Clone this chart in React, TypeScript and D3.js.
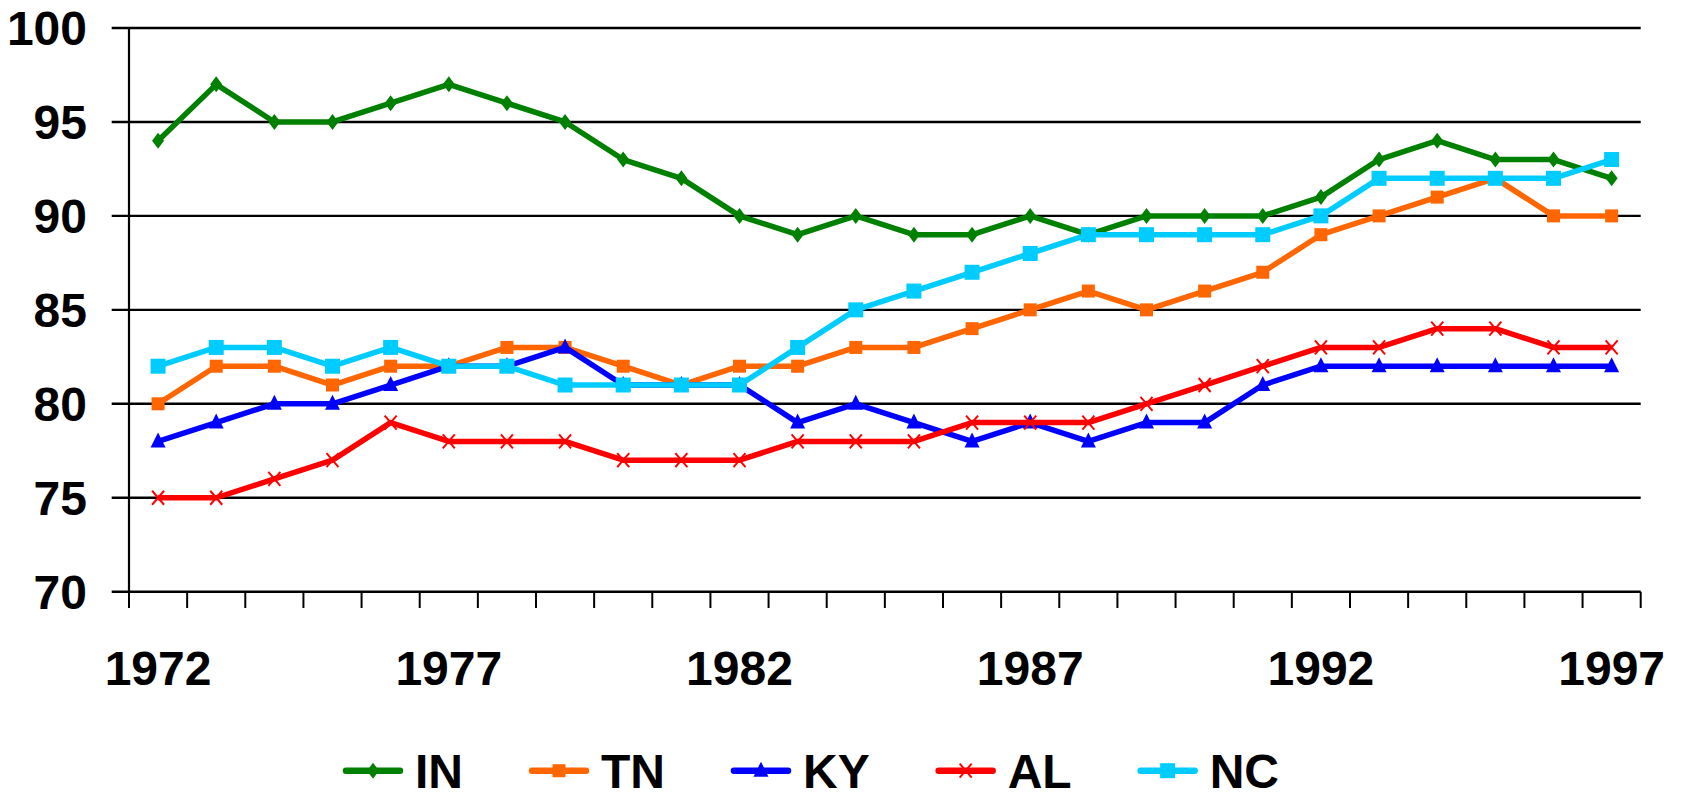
import React from "react";
import * as d3 from "d3";

const years: number[] = [
  1972, 1973, 1974, 1975, 1976, 1977, 1978, 1979, 1980, 1981, 1982, 1983, 1984,
  1985, 1986, 1987, 1988, 1989, 1990, 1991, 1992, 1993, 1994, 1995, 1996, 1997,
];
const yearLabels: number[] = [1972, 1977, 1982, 1987, 1992, 1997];
const yTicks: number[] = [70, 75, 80, 85, 90, 95, 100];

const IN: number[] = [94, 97, 95, 95, 96, 97, 96, 95, 93, 92, 90, 89, 90, 89, 89, 90, 89, 90, 90, 90, 91, 93, 94, 93, 93, 92];
const TN: number[] = [80, 82, 82, 81, 82, 82, 83, 83, 82, 81, 82, 82, 83, 83, 84, 85, 86, 85, 86, 87, 89, 90, 91, 92, 90, 90];
const KY: number[] = [78, 79, 80, 80, 81, 82, 82, 83, 81, 81, 81, 79, 80, 79, 78, 79, 78, 79, 79, 81, 82, 82, 82, 82, 82, 82];
const AL: number[] = [75, 75, 76, 77, 79, 78, 78, 78, 77, 77, 77, 78, 78, 78, 79, 79, 79, 80, 81, 82, 83, 83, 84, 84, 83, 83];
const NC: number[] = [82, 83, 83, 82, 83, 82, 82, 81, 81, 81, 81, 83, 85, 86, 87, 88, 89, 89, 89, 89, 90, 92, 92, 92, 92, 93];

const seriesNames: string[] = ["IN", "TN", "KY", "AL", "NC"];
const seriesColors: string[] = ["#008000", "#FF6600", "#0000FF", "#FF0000", "#00CCFF"];
const seriesMarkers: string[] = ["diamond", "square", "triangle", "cross", "bigsquare"];
const seriesValues: number[][] = [IN, TN, KY, AL, NC];

const W = 1683;
const H = 793;
const FONT = "'Liberation Sans', Arial, Helvetica, sans-serif";

// Arial Bold advance widths (em) for legend layout
const charW: Record<string, number> = { I: 0.278, N: 0.722, T: 0.611, K: 0.722, Y: 0.667, A: 0.722, L: 0.611, C: 0.722 };
const textWidth = (s: string, size: number) =>
  s.split("").reduce((a, c) => a + (charW[c] ?? 0.6) * size, 0);

function Marker({ kind, x, y, color }: { kind: string; x: number; y: number; color: string }) {
  switch (kind) {
    case "diamond":
      return <polygon points={`${x},${y - 8} ${x + 6},${y} ${x},${y + 8} ${x - 6},${y}`} fill={color} />;
    case "square":
      return <rect x={x - 6.5} y={y - 6.5} width={13} height={13} fill={color} />;
    case "bigsquare":
      return <rect x={x - 7.5} y={y - 7.5} width={15} height={15} fill={color} />;
    case "triangle":
      return <polygon points={`${x},${y - 9} ${x + 7.5},${y + 6} ${x - 7.5},${y + 6}`} fill={color} />;
    case "cross":
      return (
        <g stroke={color} strokeWidth={2}>
          <line x1={x - 6} y1={y - 7} x2={x + 6} y2={y + 7} />
          <line x1={x - 6} y1={y + 7} x2={x + 6} y2={y - 7} />
        </g>
      );
    default:
      return null;
  }
}

export default function App() {
  const left = 129;
  const right = 1640.7;
  const top = 28;
  const bottom = 591.7;

  const x = d3.scaleBand<number>().domain(years).range([left, right]).paddingInner(0).paddingOuter(0);
  const cx = (yr: number) => (x(yr) as number) + x.bandwidth() / 2;
  const y = d3.scaleLinear().domain([70, 100]).range([bottom, top]);

  const line = d3
    .line<number>()
    .x((_, i) => cx(years[i]))
    .y((d) => y(d));

  const tickX = d3.range(years.length + 1).map((i) => left + i * x.step());

  // legend layout
  const legStart = 343;
  const legLine = 60;
  const legGap = 12;
  const legPad = 66;
  const legFont = 48;
  const legendPos: number[] = [];
  let cur = legStart;
  seriesNames.forEach((n) => {
    legendPos.push(cur);
    cur += legLine + legGap + textWidth(n, legFont) + legPad;
  });
  const legY = 770.7;

  return (
    <svg
      width={W}
      height={H}
      style={{ position: "absolute", left: 0, top: 0, background: "#fff" }}
      fontFamily={FONT}
    >
      <rect x={0} y={0} width={W} height={H} fill="#fff" />
      {/* gridlines + y ticks */}
      {yTicks.map((t) => (
        <g key={t}>
          <line x1={111.7} x2={right} y1={y(t)} y2={y(t)} stroke="#000" strokeWidth={2.4} />
          <text
            x={87}
            y={y(t) + 17}
            textAnchor="end"
            fontSize={48}
            fontWeight="bold"
            fill="#000"
          >
            {t}
          </text>
        </g>
      ))}
      {/* y axis */}
      <line x1={left} x2={left} y1={top} y2={bottom} stroke="#000" strokeWidth={2.2} />
      {/* x ticks */}
      {tickX.map((tx, i) => (
        <line key={i} x1={tx} x2={tx} y1={bottom} y2={608} stroke="#000" strokeWidth={2} />
      ))}
      {/* x labels */}
      {yearLabels.map((yr) => (
        <text key={yr} x={cx(yr)} y={685} textAnchor="middle" fontSize={48} fontWeight="bold" fill="#000">
          {yr}
        </text>
      ))}
      {/* series */}
      {seriesValues.map((vals, si) => (
        <g key={seriesNames[si]}>
          <path
            d={line(vals) as string}
            fill="none"
            stroke={seriesColors[si]}
            strokeWidth={5.5}
            strokeLinejoin="round"
          />
          {vals.map((v, i) => (
            <Marker key={i} kind={seriesMarkers[si]} x={cx(years[i])} y={y(v)} color={seriesColors[si]} />
          ))}
        </g>
      ))}
      {/* legend */}
      {seriesNames.map((n, si) => {
        const lx = legendPos[si];
        return (
          <g key={n}>
            <line
              x1={lx + 3}
              x2={lx + legLine - 3}
              y1={legY}
              y2={legY}
              stroke={seriesColors[si]}
              strokeWidth={6.5}
              strokeLinecap="round"
            />
            <Marker kind={seriesMarkers[si]} x={lx + legLine / 2} y={legY} color={seriesColors[si]} />
            <text x={lx + legLine + legGap} y={788} fontSize={legFont} fontWeight="bold" fill="#000">
              {n}
            </text>
          </g>
        );
      })}
    </svg>
  );
}
